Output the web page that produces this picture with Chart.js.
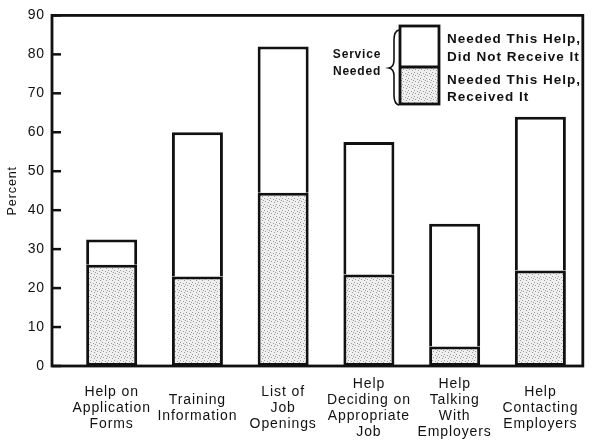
<!DOCTYPE html>
<html>
<head>
<meta charset="utf-8">
<script src="https://cdn.jsdelivr.net/npm/chart.js@4.4.1/dist/chart.umd.min.js"></script>
<style>
  body { margin: 0; background: #fff; }
  #wrap { width: 592px; height: 440px; position: relative; }
</style>
</head>
<body>
<div id="wrap"><canvas id="helpChart"></canvas></div>
<script>
// categories (x tick labels, one line per entry)
const categories = [
  ["Help on", "Application", "Forms"],
  ["Training", "Information"],
  ["List of", "Job", "Openings"],
  ["Help", "Deciding on", "Appropriate", "Job"],
  ["Help", "Talking", "With", "Employers"],
  ["Help", "Contacting", "Employers"]
];
// percent who needed the help and received it (stippled part)
const receivedValues = [26, 23, 44.5, 23.5, 5, 24.5];
// percent who needed the help but did not receive it (white part on top)
const notReceivedValues = [6.5, 37, 37.5, 34, 31.5, 39.5];
const yTicks = [0, 10, 20, 30, 40, 50, 60, 70, 80, 90];

const ink = "#111";
const fontFamily = "'Liberation Sans', Arial, Helvetica, sans-serif";

// stipple fill for the "received" part
function makeStipple() {
  const c = document.createElement("canvas");
  c.width = 6; c.height = 6;
  const g = c.getContext("2d");
  g.fillStyle = "#efefef";
  g.fillRect(0, 0, 6, 6);
  g.fillStyle = "#9a9a9a";
  [[0, 0], [3, 1], [1, 3], [4, 4], [5, 2]].forEach(p => g.fillRect(p[0], p[1], 1, 1));
  return g.createPattern(c, "repeat");
}
const stipple = makeStipple();

const framePlugin = {
  id: "frame",
  beforeDraw(chart) {
    chart.ctx.letterSpacing = "0.9px";
  },
  afterDatasetsDraw(chart) {
    const { ctx, chartArea: a } = chart;
    const y = chart.scales.y;
    ctx.save();
    ctx.strokeStyle = ink;
    ctx.lineWidth = 2.8;
    ctx.strokeRect(a.left, a.top, a.right - a.left, a.bottom - a.top);
    // inward tick marks on the value axis
    ctx.lineWidth = 2.5;
    yTicks.forEach(v => {
      const py = y.getPixelForValue(v);
      ctx.beginPath();
      ctx.moveTo(a.left, py);
      ctx.lineTo(a.left + 9, py);
      ctx.stroke();
    });
    ctx.restore();
  },
  afterDraw(chart) {
    // custom legend: stacked key box with brace
    const ctx = chart.ctx;
    const ds = chart.data.datasets;
    const bx = 400, bw = 39, top = 26, mid = 67, bot = 104;
    ctx.save();
    ctx.fillStyle = ds[1].backgroundColor;
    ctx.fillRect(bx, top, bw, mid - top);
    ctx.fillStyle = ds[0].backgroundColor;
    ctx.fillRect(bx, mid, bw, bot - mid);
    ctx.strokeStyle = ink;
    ctx.lineWidth = 2.8;
    ctx.strokeRect(bx, top, bw, bot - top);
    ctx.beginPath();
    ctx.moveTo(bx, mid);
    ctx.lineTo(bx + bw, mid);
    ctx.stroke();

    // brace
    ctx.lineWidth = 1.6;
    ctx.beginPath();
    ctx.moveTo(399, 30);
    ctx.quadraticCurveTo(394, 31, 394, 40);
    ctx.lineTo(394, 60);
    ctx.quadraticCurveTo(394, 67, 389, 68);
    ctx.quadraticCurveTo(394, 69, 394, 76);
    ctx.lineTo(394, 95);
    ctx.quadraticCurveTo(394, 104, 399, 105);
    ctx.stroke();

    ctx.fillStyle = ink;
    ctx.letterSpacing = "0.8px";
    ctx.textBaseline = "middle";
    ctx.textAlign = "center";
    ctx.font = "bold 12px " + fontFamily;
    ctx.fillText("Service", 357, 55);
    ctx.fillText("Needed", 357, 72);

    ctx.textAlign = "left";
    ctx.letterSpacing = "1px";
    ctx.font = "bold 13.5px " + fontFamily;
    ctx.fillText(ds[1].label.split("|")[0], 447, 39);
    ctx.fillText(ds[1].label.split("|")[1], 447, 57);
    ctx.fillText(ds[0].label.split("|")[0], 447, 80);
    ctx.fillText(ds[0].label.split("|")[1], 447, 97);
    ctx.restore();
  }
};

new Chart(document.getElementById("helpChart"), {
  type: "bar",
  data: {
    datasets: [
      {
        label: "Needed This Help,|Received It",
        data: receivedValues.map((v, i) => ({ x: i, y: v })),
        backgroundColor: stipple,
        borderColor: ink,
        borderWidth: 3,
        borderSkipped: false
      },
      {
        label: "Needed This Help,|Did Not Receive It",
        data: notReceivedValues.map((v, i) => ({ x: i, y: v })),
        backgroundColor: "#ffffff",
        borderColor: ink,
        borderWidth: 3,
        borderSkipped: "bottom"
      }
    ]
  },
  options: {
    responsive: true,
    maintainAspectRatio: false,
    animation: false,
    layout: { padding: { top: 14, right: 2, left: 0, bottom: 0 } },
    barPercentage: 0.595,
    categoryPercentage: 1,
    plugins: {
      legend: { display: false },
      tooltip: { enabled: false }
    },
    scales: {
      x: {
        type: "linear",
        stacked: true,
        offset: false,
        min: -0.696,
        max: 5.495,
        grid: { display: false, drawTicks: false },
        border: { display: false },
        afterFit: s => { s.height = 74; },
        ticks: {
          stepSize: 1,
          includeBounds: false,
          autoSkip: false,
          maxRotation: 0,
          crossAlign: "center",
          padding: 18,
          color: ink,
          font: { family: fontFamily, size: 14, lineHeight: 1.14 },
          callback: v => categories[v] || ""
        }
      },
      y: {
        stacked: true,
        min: 0,
        max: 90,
        grid: { display: false, drawTicks: false },
        border: { display: false },
        afterFit: s => { s.width = 52; },
        afterBuildTicks: s => { s.ticks = yTicks.map(v => ({ value: v })); },
        ticks: {
          padding: 7,
          color: ink,
          font: { family: fontFamily, size: 14 }
        },
        title: {
          display: true,
          text: "Percent",
          color: ink,
          padding: { top: 5, bottom: 0 },
          font: { family: fontFamily, size: 12.5 }
        }
      }
    }
  },
  plugins: [framePlugin]
});
</script>
</body>
</html>
